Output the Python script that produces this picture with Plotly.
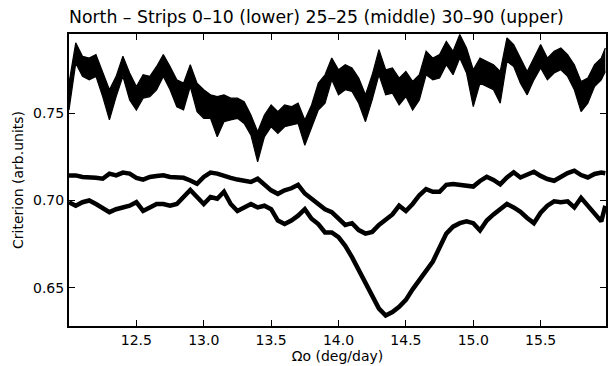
import plotly.graph_objects as go

# x grid (deg/day), read at 0.05 steps
omega = [12.00, 12.05, 12.10, 12.15, 12.20, 12.25, 12.30, 12.35, 12.40, 12.45,
         12.50, 12.55, 12.60, 12.65, 12.70, 12.75, 12.80, 12.85, 12.90, 12.95,
         13.00, 13.05, 13.10, 13.15, 13.20, 13.25, 13.30, 13.35, 13.40, 13.45,
         13.50, 13.55, 13.60, 13.65, 13.70, 13.75, 13.80, 13.85, 13.90, 13.95,
         14.00, 14.05, 14.10, 14.15, 14.20, 14.25, 14.30, 14.35, 14.40, 14.45,
         14.50, 14.55, 14.60, 14.65, 14.70, 14.75, 14.80, 14.85, 14.90, 14.95,
         15.00, 15.05, 15.10, 15.15, 15.20, 15.25, 15.30, 15.35, 15.40, 15.45,
         15.50, 15.55, 15.60, 15.65, 15.70, 15.75, 15.80, 15.85, 15.90, 15.95,
         15.98]

# Upper curve (strips 30-90): noise band, top and bottom envelopes
upper_top = [0.7673, 0.7904, 0.7827, 0.7817, 0.7837, 0.7731, 0.7635, 0.7712, 0.7827, 0.7731,
             0.7654, 0.7721, 0.7712, 0.7769, 0.7837, 0.7769, 0.7692, 0.7673, 0.7779, 0.7673,
             0.7635, 0.7606, 0.7596, 0.7606, 0.7587, 0.7587, 0.7567, 0.7490, 0.7394, 0.7490,
             0.7548, 0.7510, 0.7548, 0.7538, 0.7558, 0.7462, 0.7548, 0.7673, 0.7721, 0.7817,
             0.7750, 0.7779, 0.7760, 0.7702, 0.7606, 0.7721, 0.7865, 0.7750, 0.7760, 0.7702,
             0.7740, 0.7683, 0.7721, 0.7856, 0.7817, 0.7837, 0.7913, 0.7856, 0.7952, 0.7875,
             0.7750, 0.7817, 0.7798, 0.7779, 0.7740, 0.7933, 0.7894, 0.7817, 0.7740, 0.7817,
             0.7894, 0.7817, 0.7856, 0.7875, 0.7837, 0.7779, 0.7683, 0.7702, 0.7779, 0.7817,
             0.7875]
upper_bot = [0.7519, 0.7788, 0.7712, 0.7692, 0.7712, 0.7596, 0.7462, 0.7596, 0.7712, 0.7577,
             0.7519, 0.7587, 0.7596, 0.7635, 0.7712, 0.7635, 0.7538, 0.7519, 0.7654, 0.7510,
             0.7471, 0.7471, 0.7365, 0.7452, 0.7462, 0.7471, 0.7442, 0.7375, 0.7221, 0.7365,
             0.7423, 0.7385, 0.7423, 0.7433, 0.7442, 0.7317, 0.7413, 0.7519, 0.7558, 0.7692,
             0.7606, 0.7635, 0.7625, 0.7558, 0.7452, 0.7577, 0.7721, 0.7606, 0.7615, 0.7548,
             0.7596, 0.7519, 0.7577, 0.7721, 0.7692, 0.7702, 0.7779, 0.7721, 0.7817, 0.7731,
             0.7538, 0.7673, 0.7654, 0.7635, 0.7558, 0.7798, 0.7769, 0.7673, 0.7606, 0.7692,
             0.7760, 0.7692, 0.7731, 0.7750, 0.7712, 0.7635, 0.7510, 0.7558, 0.7654, 0.7692,
             0.7740]

# Middle curve (strips 25-25)
middle = [0.7144, 0.7144, 0.7135, 0.7135, 0.7130, 0.7125, 0.7154, 0.7144, 0.7160, 0.7154,
          0.7130, 0.7120, 0.7135, 0.7140, 0.7144, 0.7135, 0.7135, 0.7130, 0.7115, 0.7096,
          0.7135, 0.7160, 0.7154, 0.7140, 0.7130, 0.7120, 0.7115, 0.7106, 0.7125, 0.7087,
          0.7058, 0.7038, 0.7058, 0.7070, 0.7090, 0.7040, 0.7010, 0.6980, 0.6950, 0.6933,
          0.6900, 0.6860, 0.6870, 0.6830, 0.6810, 0.6820, 0.6860, 0.6890, 0.6920, 0.6970,
          0.6940, 0.6980, 0.7030, 0.7065, 0.7050, 0.7050, 0.7090, 0.7095, 0.7090, 0.7080,
          0.7080, 0.7112, 0.7136, 0.7118, 0.7093, 0.7132, 0.7162, 0.7132, 0.7152, 0.7165,
          0.7141, 0.7123, 0.7113, 0.7137, 0.7157, 0.7171, 0.7146, 0.7132, 0.7152, 0.7160,
          0.7156]

# Lower curve (strips 0-10)
lower = [0.6990, 0.6970, 0.6990, 0.7000, 0.6980, 0.6960, 0.6933, 0.6950, 0.6960, 0.6970,
         0.6990, 0.6940, 0.6960, 0.6980, 0.6980, 0.6970, 0.6980, 0.7020, 0.7060, 0.7020,
         0.6980, 0.7020, 0.7010, 0.7050, 0.6980, 0.6940, 0.6960, 0.6980, 0.6960, 0.6970,
         0.6950, 0.6885, 0.6865, 0.6885, 0.6913, 0.6950, 0.6895, 0.6865, 0.6817, 0.6817,
         0.6790, 0.6740, 0.6675, 0.6600, 0.6530, 0.6455, 0.6380, 0.6340, 0.6360, 0.6390,
         0.6430, 0.6490, 0.6540, 0.6590, 0.6650, 0.6730, 0.6810, 0.6850, 0.6870, 0.6880,
         0.6870, 0.6828, 0.6885, 0.6920, 0.6950, 0.6980, 0.6960, 0.6935, 0.6900, 0.6870,
         0.6930, 0.6970, 0.6995, 0.6990, 0.6995, 0.6960, 0.7015, 0.6970, 0.6920, 0.6880,
         0.6970]

x_ticks = [12.5, 13.0, 13.5, 14.0, 14.5, 15.0, 15.5]
y_ticks = [0.65, 0.70, 0.75]

FONT = "DejaVu Sans"

fig = go.Figure()
fig.add_trace(go.Scatter(x=omega, y=upper_bot, mode="lines",
                         line=dict(color="black", width=1.2), showlegend=False))
fig.add_trace(go.Scatter(x=omega, y=upper_top, mode="lines", fill="tonexty",
                         fillcolor="black", line=dict(color="black", width=1.2),
                         showlegend=False))
fig.add_trace(go.Scatter(x=omega, y=middle, mode="lines",
                         line=dict(color="black", width=4.5), showlegend=False))
fig.add_trace(go.Scatter(x=omega, y=lower, mode="lines",
                         line=dict(color="black", width=4.5), showlegend=False))

fig.update_layout(
    width=610, height=366,
    margin=dict(l=69, r=2, t=34, b=40),
    paper_bgcolor="white", plot_bgcolor="white",
    font=dict(family=FONT, size=14, color="black"),
    title=dict(text="North – Strips 0–10 (lower) 25–25 (middle) 30–90 (upper)",
               x=69/610, xanchor="left", xref="container",
               y=1 - 17/366, yanchor="middle", yref="container",
               font=dict(family=FONT, size=17.3, color="black")),
    xaxis=dict(range=[12.0, 15.985], tickvals=x_ticks, tickformat=".1f",
               ticks="inside", ticklen=6, tickcolor="black", tickwidth=1,
               showline=True, linecolor="black", linewidth=2, mirror="ticks",
               showgrid=False, zeroline=False,
               title=dict(text="Ωo (deg/day)", standoff=2,
                          font=dict(family=FONT, size=14)),
               tickfont=dict(family=FONT, size=14)),
    yaxis=dict(range=[0.628, 0.7955], tickvals=y_ticks, tickformat=".2f",
               ticks="inside", ticklen=6, tickcolor="black", tickwidth=1,
               showline=True, linecolor="black", linewidth=2, mirror="ticks",
               showgrid=False, zeroline=False,
               title=dict(text="Criterion (arb.units)", standoff=6,
                          font=dict(family=FONT, size=14)),
               tickfont=dict(family=FONT, size=14)),
)

fig.write_html("out.html")
